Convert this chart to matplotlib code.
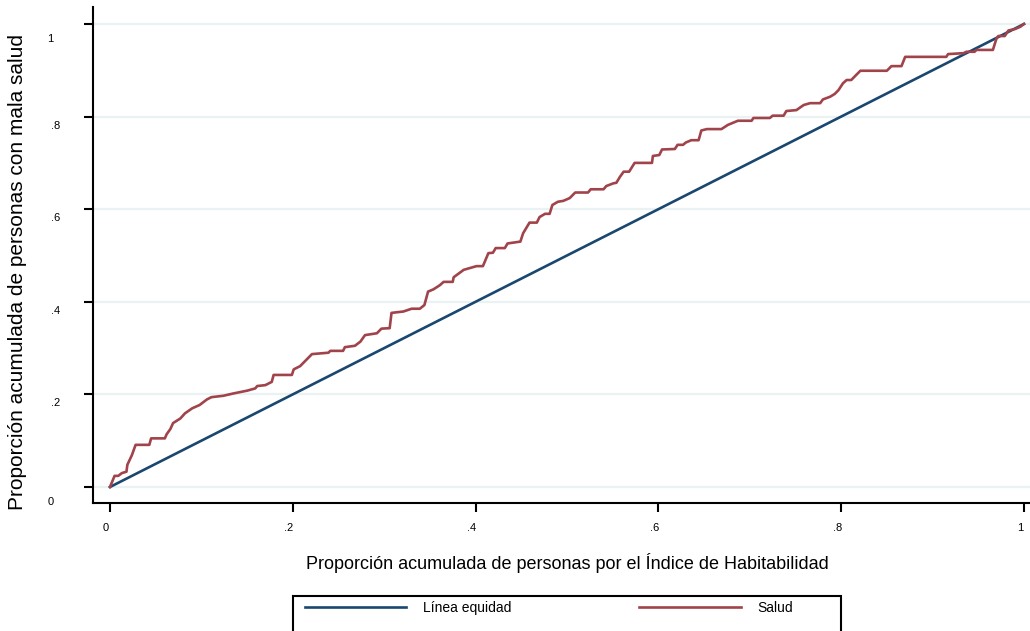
import numpy as np
import matplotlib.pyplot as plt
from matplotlib.patches import Rectangle
from matplotlib.transforms import ScaledTranslation

plt.rcParams['font.family'] = ['Liberation Sans', 'DejaVu Sans']

# equality line
eq_x = [0.0, 1.0]
eq_y = [0.0, 1.0]

# concentration curve
salud_x = [0.000, 0.005, 0.009, 0.013, 0.018, 0.019, 0.024, 0.028, 0.043, 0.045,
           0.060, 0.062, 0.066, 0.069, 0.077, 0.082, 0.090, 0.098, 0.106, 0.111,
           0.124, 0.135, 0.150, 0.159, 0.161, 0.170, 0.177, 0.179, 0.199, 0.201,
           0.208, 0.213, 0.221, 0.239, 0.241, 0.255, 0.257, 0.268, 0.274, 0.279,
           0.292, 0.297, 0.306, 0.308, 0.321, 0.330, 0.339, 0.344, 0.348, 0.354,
           0.361, 0.365, 0.375, 0.376, 0.387, 0.401, 0.408, 0.414, 0.419, 0.422,
           0.432, 0.435, 0.449, 0.452, 0.459, 0.467, 0.470, 0.476, 0.481, 0.484,
           0.490, 0.496, 0.503, 0.509, 0.523, 0.526, 0.540, 0.543, 0.551, 0.554,
           0.558, 0.562, 0.568, 0.574, 0.593, 0.594, 0.601, 0.604, 0.618, 0.621,
           0.627, 0.630, 0.636, 0.644, 0.647, 0.653, 0.669, 0.676, 0.687, 0.702,
           0.704, 0.722, 0.725, 0.737, 0.740, 0.751, 0.759, 0.766, 0.777, 0.780,
           0.788, 0.793, 0.797, 0.802, 0.806, 0.811, 0.821, 0.850, 0.855, 0.866,
           0.870, 0.915, 0.917, 0.934, 0.937, 0.946, 0.948, 0.966, 0.970, 0.972,
           0.979, 0.983, 0.990, 0.996, 1.000]
salud_y = [0.000, 0.024, 0.024, 0.030, 0.033, 0.048, 0.069, 0.091, 0.091, 0.105,
           0.105, 0.114, 0.125, 0.138, 0.148, 0.159, 0.170, 0.177, 0.189, 0.194,
           0.197, 0.202, 0.208, 0.213, 0.218, 0.220, 0.227, 0.242, 0.242, 0.254,
           0.261, 0.271, 0.287, 0.290, 0.294, 0.294, 0.302, 0.305, 0.314, 0.328,
           0.332, 0.342, 0.343, 0.376, 0.379, 0.385, 0.385, 0.393, 0.422, 0.427,
           0.436, 0.443, 0.443, 0.453, 0.469, 0.477, 0.477, 0.505, 0.506, 0.516,
           0.516, 0.526, 0.530, 0.548, 0.571, 0.571, 0.583, 0.590, 0.590, 0.609,
           0.616, 0.618, 0.624, 0.636, 0.636, 0.643, 0.643, 0.650, 0.656, 0.657,
           0.670, 0.681, 0.681, 0.700, 0.700, 0.715, 0.717, 0.729, 0.730, 0.739,
           0.739, 0.744, 0.749, 0.749, 0.770, 0.773, 0.773, 0.782, 0.791, 0.791,
           0.797, 0.797, 0.802, 0.802, 0.812, 0.814, 0.825, 0.829, 0.829, 0.837,
           0.843, 0.849, 0.857, 0.872, 0.879, 0.879, 0.899, 0.899, 0.909, 0.909,
           0.929, 0.929, 0.935, 0.937, 0.940, 0.940, 0.944, 0.944, 0.969, 0.974,
           0.974, 0.986, 0.989, 0.994, 1.000]

ticks = [0, 0.2, 0.4, 0.6, 0.8, 1]
tick_labels = ['0', '.2', '.4', '.6', '.8', '1']

W, H = 1030, 631
fig = plt.figure(figsize=(W / 100, H / 100), dpi=100)
ax = fig.add_axes([93 / W, 1 - 503 / H, (W - 93) / W, (503 - 7) / H])

ax.plot(eq_x, eq_y, color='#1a476f', lw=1.9, label='Línea equidad', zorder=3)
ax.plot(salud_x, salud_y, color='#a0434a', lw=1.9, label='Salud', zorder=4)

ax.set_xlim(-0.0186, 1.0066)
ax.set_ylim(-0.0346, 1.0367)

ax.set_xticks(ticks)
ax.set_xticklabels(tick_labels)
ax.set_yticks(ticks)
ax.set_yticklabels(tick_labels)
ax.grid(axis='y', color='#eaf2f3', lw=1.6)
ax.set_axisbelow(True)

for s in ['top', 'right']:
    ax.spines[s].set_visible(False)
for s in ['left', 'bottom']:
    ax.spines[s].set_linewidth(1.5)

ax.tick_params(axis='both', direction='out', length=6.5, width=1.5, labelsize=8)
ax.tick_params(axis='y', pad=17)
ax.tick_params(axis='x', pad=8)

# nudge labels like the original rendering
for lab in ax.get_yticklabels():
    dx, dy = 0, -8
    if '.' not in lab.get_text():
        dx, dy = -7, -14
    lab.set_transform(lab.get_transform() + ScaledTranslation(dx / 100, dy / 100, fig.dpi_scale_trans))
for lab in ax.get_xticklabels():
    lab.set_transform(lab.get_transform() + ScaledTranslation(-4 / 100, 0, fig.dpi_scale_trans))

fig.text(567 / W, 1 - 563 / H, 'Proporción acumulada de personas por el Índice de Habitabilidad',
         ha='center', va='center', fontsize=13)
fig.text(18 / W, 1 - 272 / H, 'Proporción acumulada de personas con mala salud',
         ha='center', va='center', rotation=90, fontsize=15)

fig.legend(loc='upper left', bbox_to_anchor=(305 / W, 1 - 601 / H), ncol=2, frameon=False,
           borderpad=0, borderaxespad=0, handlelength=7.3, handletextpad=1.2,
           columnspacing=9.2, fontsize=10)
fig.patches.append(Rectangle((293 / W, 1 - 660 / H), (841 - 293) / W, 64 / H,
                             transform=fig.transFigure, fill=False, edgecolor='black', lw=1.5))

fig.savefig('out.png', dpi=100)
